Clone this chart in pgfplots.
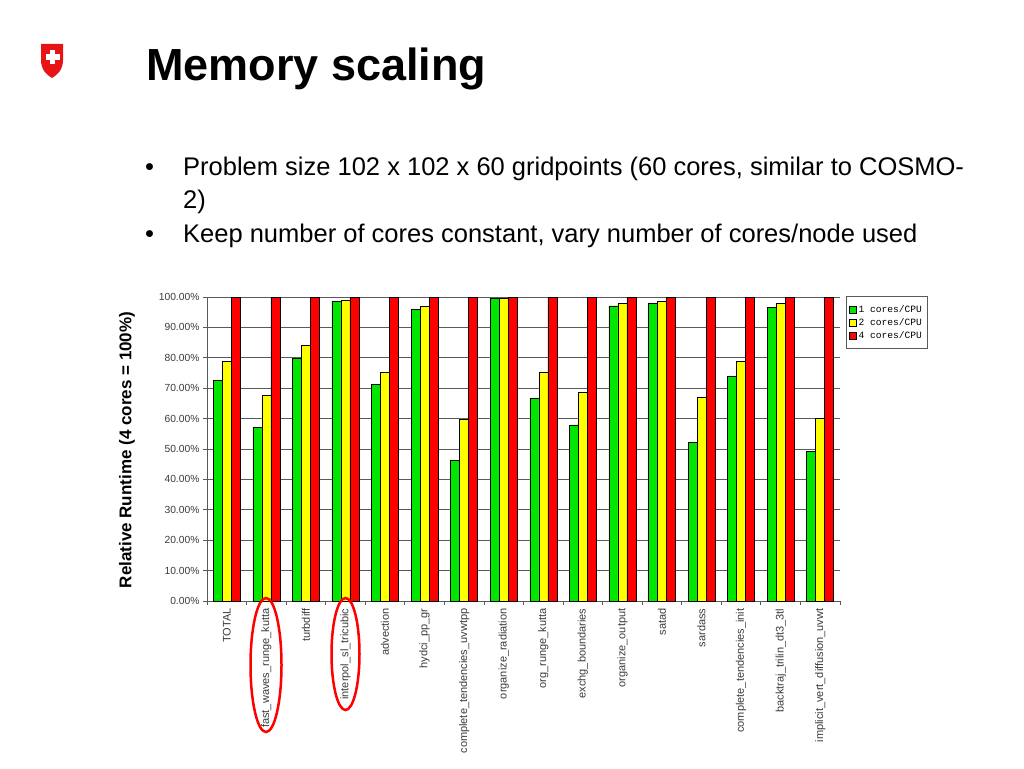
\documentclass[border=0pt]{standalone}
\usepackage{pgfplots}
\pgfplotsset{compat=1.18}
\usepackage{pgfplotstable}
\usepackage{fontspec}
\setmainfont{Liberation Sans}
\setmonofont{Liberation Mono}

\definecolor{cgreen}{RGB}{0,230,0}
\definecolor{cyellow}{RGB}{255,255,0}
\definecolor{cred}{RGB}{255,0,0}
\definecolor{swissred}{RGB}{230,20,20}
\definecolor{gridgray}{RGB}{90,90,90}
\definecolor{labgray}{RGB}{60,60,60}

% relative runtime in %, 4 cores/CPU = 100
\pgfplotstableread{
x one two four
0 72.6 78.8 100
1 57.1 67.6 100
2 80.0 84.1 100
3 98.6 98.9 100
4 71.3 75.2 100
5 96.0 96.8 100
6 46.2 59.9 100
7 99.6 99.5 100
8 66.7 75.2 100
9 57.9 68.7 100
10 97.1 97.8 100
11 98.1 98.7 100
12 52.2 67.0 100
13 74.0 78.8 100
14 96.7 98.0 100
15 49.3 60.0 100
}\runtime

\begin{document}
\begin{tikzpicture}
\fill[white] (0pt,0pt) rectangle (1024pt,-768pt);

% logo
\fill[swissred] (41pt,-44pt) -- (63pt,-44pt) -- (63pt,-60pt)
  .. controls (63pt,-70pt) and (57pt,-75pt) .. (52pt,-78pt)
  .. controls (47pt,-75pt) and (41pt,-70pt) .. (41pt,-60pt) -- cycle;
\fill[white] (49.6pt,-50.5pt) rectangle (55.4pt,-64pt);
\fill[white] (45.5pt,-54.4pt) rectangle (59.5pt,-60.2pt);

% title and bullets
\node[anchor=base west, inner sep=0pt, font=\bfseries\fontsize{45}{54}\selectfont] at (146pt,-81pt) {Memory scaling};
\begin{scope}[every node/.style={anchor=base west, inner sep=0pt, font=\fontsize{25.5}{30}\selectfont}]
\node at (145pt,-175pt) {\textbullet};
\node at (183pt,-175pt) {Problem size 102 x 102 x 60 gridpoints (60 cores, similar to COSMO-};
\node at (183pt,-208pt) {2)};
\node at (145pt,-242pt) {\textbullet};
\node at (183pt,-242pt) {Keep number of cores constant, vary number of cores/node used};
\end{scope}

\node[rotate=90, font=\bfseries\fontsize{17}{20}\selectfont] at (127pt,-450pt) {Relative Runtime (4 cores = 100\%)};

\begin{axis}[
  at={(207pt,-601pt)}, anchor=south west,
  scale only axis, width=633pt, height=304pt,
  ybar=0pt, bar width=9pt,
  xmin=-0.5, xmax=15.5, ymin=0, ymax=100,
  ytick={0,10,...,100},
  xtick={0,...,15},
  minor xtick={-0.5,0.5,...,15.5},
  xticklabels={TOTAL, fast\_waves\_runge\_kutta, turbdiff, interpol\_sl\_tricubic,
    advection, hydci\_pp\_gr, complete\_tendencies\_uvwtpp, organize\_radiation,
    org\_runge\_kutta, exchg\_boundaries, organize\_output, satad, sardass,
    complete\_tendencies\_init, backtraj\_trilin\_dt3\_3tl, implicit\_vert\_diffusion\_uvwt},
  yticklabel={\pgfmathprintnumber[fixed,fixed zerofill,precision=2]{\tick}\%},
  /pgf/number format/assume math mode=true,
  axis x line=bottom, axis y line=left,
  axis line style={-, draw=gridgray, line width=0.8pt},
  tick align=outside,
  major x tick style={draw=none},
  minor tick length=4pt, major tick length=4pt,
  tick style={draw=gridgray, line width=0.8pt},
  ymajorgrids, grid style={draw=gridgray, line width=0.8pt},
  x tick label style={rotate=90, anchor=east, font=\fontsize{11}{13}\selectfont, text=labgray},
  y tick label style={font=\fontsize{10.3}{12}\selectfont, text=labgray},
  legend style={at={(1.0095,1.003)}, anchor=north west, draw=gridgray,
    font=\ttfamily\fontsize{9.6}{12}\selectfont, inner xsep=3pt, inner ysep=7pt,
    row sep=0.5pt, cells={anchor=west}},
  legend image code/.code={\draw[#1,draw=black,line width=0.4pt] (0pt,-3.5pt) rectangle (7pt,3.5pt);},
  every axis plot/.append style={draw=black, line width=0.5pt},
]
\addplot[fill=cgreen] table[x=x,y=one] {\runtime};
\addplot[fill=cyellow] table[x=x,y=two] {\runtime};
\addplot[fill=cred] table[x=x,y=four] {\runtime};
\legend{1 cores/CPU, 2 cores/CPU, 4 cores/CPU}
\end{axis}

% highlight ellipses
\draw[cred, line width=2.5pt] (266pt,-665pt) ellipse [x radius=15.5pt, y radius=67pt];
\draw[cred, line width=2.5pt] (345.5pt,-654pt) ellipse [x radius=14pt, y radius=56pt];
\end{tikzpicture}
\end{document}
